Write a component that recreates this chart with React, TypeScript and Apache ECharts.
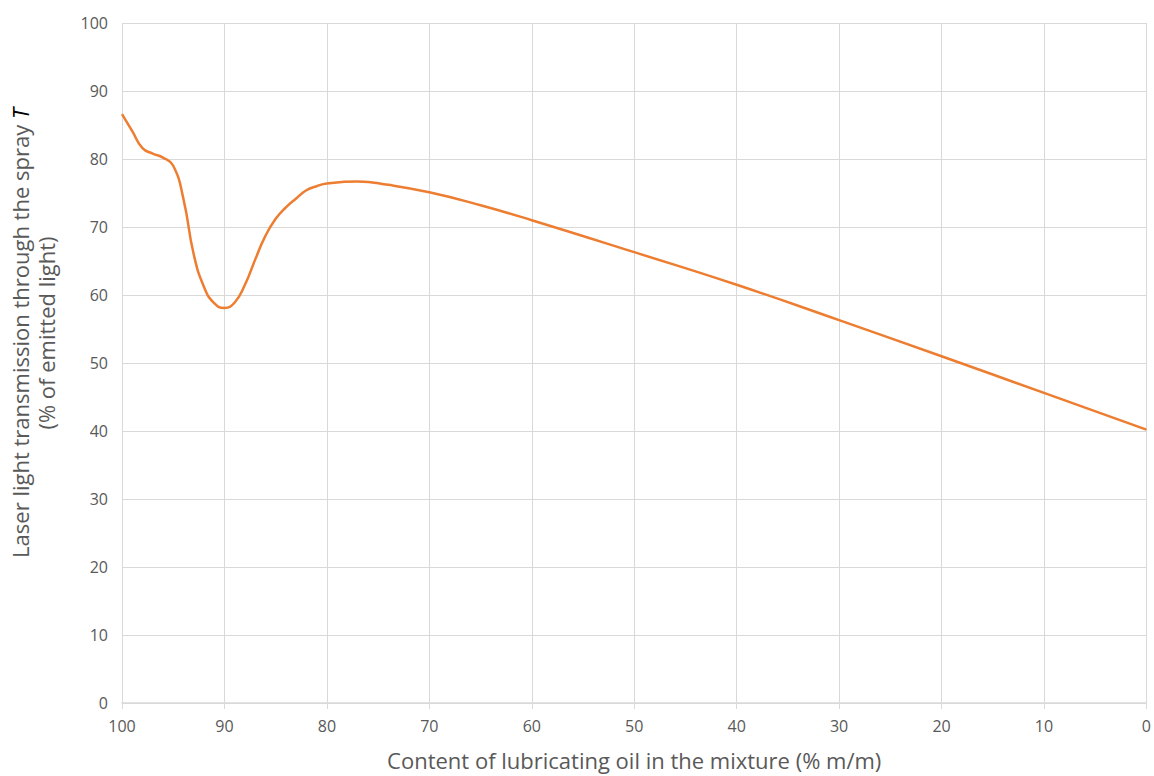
import React, { useEffect, useRef } from "react";
import * as echarts from "echarts";

const oilContent = [100, 99, 98, 97, 96, 95, 94, 93, 92, 91, 90, 89, 88, 87, 86, 85, 84, 83, 82, 81, 80, 77, 74, 70, 65, 60, 50, 40, 30, 20, 10, 0];
const transmission = [86.6, 84.1, 81.6, 80.8, 80.2, 79.0, 74.1, 66.0, 61.2, 58.8, 58.1, 58.9, 61.5, 65.2, 68.7, 71.2, 72.9, 74.2, 75.4, 76.0, 76.4, 76.7, 76.2, 75.1, 73.2, 71.0, 66.3, 61.5, 56.3, 51.0, 45.6, 40.2];
const xTicks = [0, 100, 10];
const yTicks = [0, 100, 10];

export default function App() {
  const ref = useRef<HTMLDivElement>(null);
  useEffect(() => {
    const chart = echarts.init(ref.current!, null, { renderer: "svg" });
    const font = "'Open Sans', 'Liberation Sans', sans-serif";
    chart.setOption({
      animation: false,
      textStyle: { fontFamily: font },
      grid: { left: 122, top: 23, width: 1026, height: 683, containLabel: false },
      xAxis: {
        type: "value",
        inverse: true,
        min: xTicks[0],
        max: xTicks[1],
        interval: xTicks[2],
        name: "Content of lubricating oil in the mixture (% m/m)",
        nameLocation: "middle",
        nameGap: 46,
        nameTextStyle: { fontSize: 22, color: "#595959", fontFamily: font },
        axisLine: { show: true, lineStyle: { color: "#d9d9d9", width: 1.5 } },
        axisTick: { show: true, length: 6, lineStyle: { color: "#d9d9d9" } },
        axisLabel: { fontSize: 16, color: "#595959", margin: 15, fontFamily: font },
        splitLine: { show: true, lineStyle: { color: "#d9d9d9", width: 1 } },
      },
      yAxis: {
        type: "value",
        min: yTicks[0],
        max: yTicks[1],
        interval: yTicks[2],
        axisLine: { show: false },
        axisTick: { show: false },
        axisLabel: { fontSize: 16, color: "#595959", margin: 14, fontFamily: font },
        splitLine: { show: true, lineStyle: { color: "#d9d9d9", width: 1 } },
      },
      graphic: [
        {
          type: "text",
          x: 33,
          y: 333,
          rotation: Math.PI / 2,
          style: {
            text: "Laser light transmission through the spray {i|T}\n(% of emitted light)",
            align: "center",
            verticalAlign: "middle",
            fontSize: 22,
            lineHeight: 26,
            fill: "#595959",
            fontFamily: font,
            rich: { i: { fontStyle: "italic", fontSize: 22, fill: "#000", fontFamily: font } },
          },
        },
      ],
      series: [
        {
          type: "line",
          data: oilContent.map((x, i) => [x, transmission[i]]),
          smooth: 0.5,
          showSymbol: false,
          lineStyle: { color: "#ed7d31", width: 2.5 },
        },
      ],
    });
    return () => chart.dispose();
  }, []);
  return <div ref={ref} style={{ width: 1154, height: 776, position: "absolute", left: 0, top: 0 }} />;
}
